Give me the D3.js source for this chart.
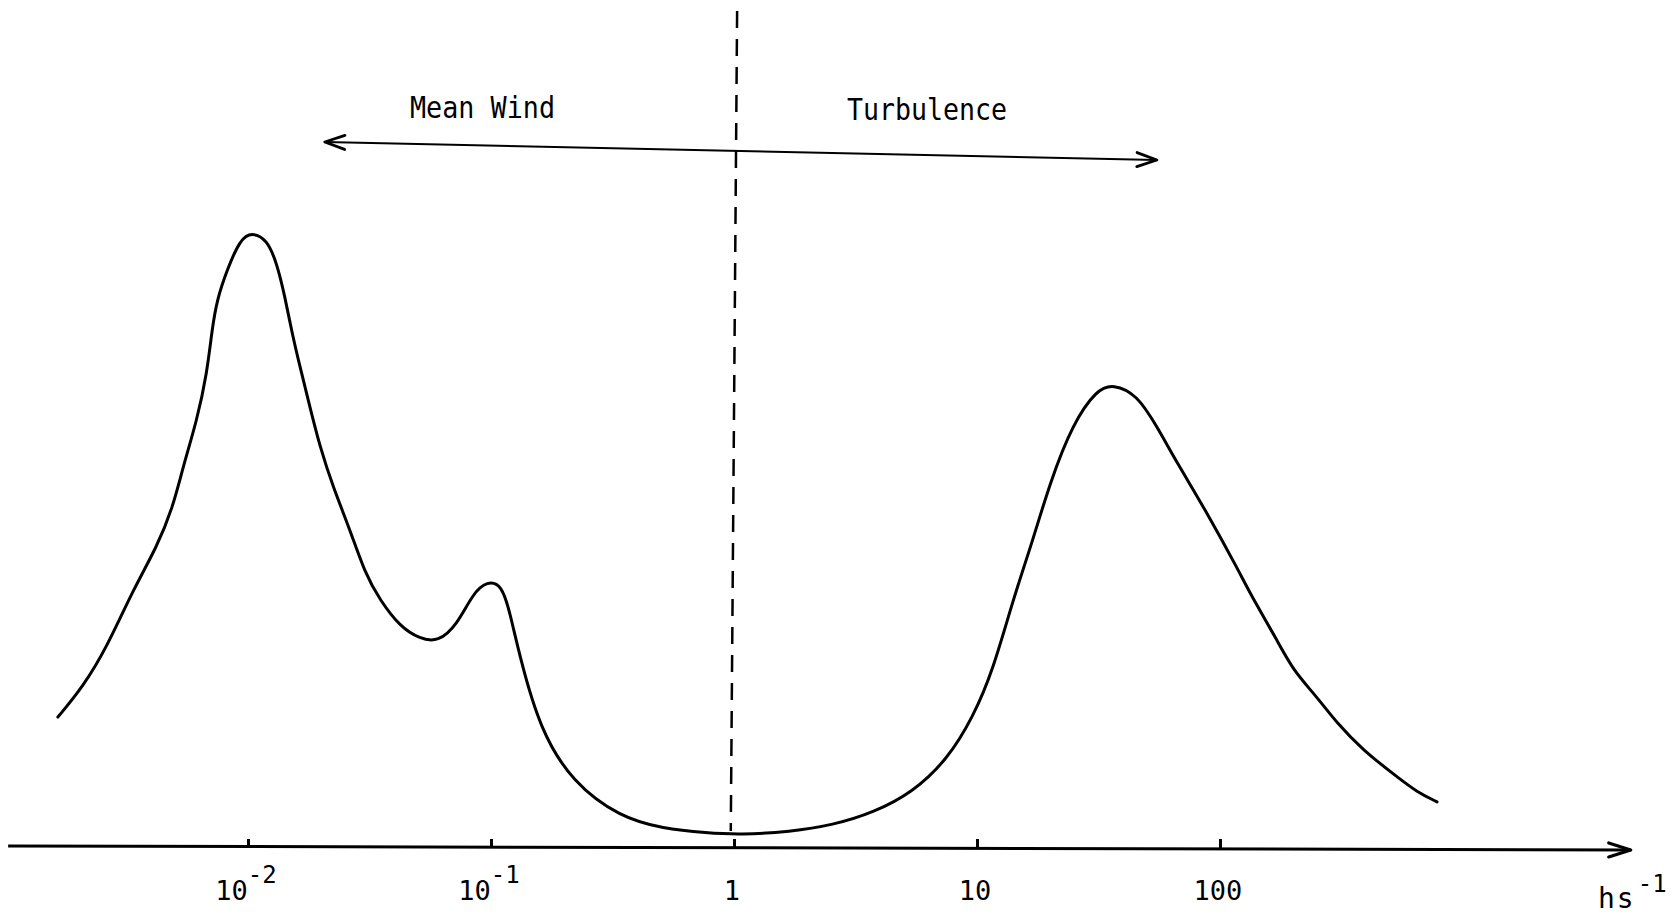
<!DOCTYPE html>
<html lang="en">
<head>
    <meta charset="UTF-8">
    <title>Wind Spectrum</title>
    <script src="https://d3js.org/d3.v7.min.js"></script>
    <style>
        body { margin: 0; background: #fff; }
        svg { display: block; }
        .lbl {
            font-family: "DejaVu Sans Mono", monospace;
            fill: #000;
        }
        .curve {
            fill: none;
            stroke: #000;
            stroke-width: 3px;
            stroke-linejoin: round;
            stroke-linecap: round;
        }
    </style>
</head>
<body>
<svg id="chart"></svg>
<script>
    // Spectrum values (frequency in cycles per hour, energy in arbitrary units)
    const freqs = [0.00165, 0.00209, 0.00263, 0.00336, 0.00422, 0.00491, 0.0054, 0.00617, 0.00678, 0.00711,
        0.00745, 0.0082, 0.00927, 0.01038, 0.01197, 0.01315, 0.01419, 0.01517, 0.01637, 0.01799,
        0.01977, 0.02239, 0.0263, 0.03027, 0.0349, 0.04227, 0.05108, 0.06053, 0.07244, 0.08435,
        0.09645, 0.1109, 0.1197, 0.1315, 0.1592, 0.2172, 0.3396, 0.5105, 0.7745, 1.059,
        1.70, 2.555, 3.733, 5.454, 7.534, 9.64, 11.64, 14.06, 16.98, 19.95,
        24.83, 31.19, 36.3, 45.5, 55.1, 66.5, 88.5, 120.8, 132.8, 171.8,
        199.6, 250.6, 303, 387, 535, 647, 782];
    const energy = [21.3, 26.2, 32.8, 42.1, 49.2, 55.7, 62.3, 70.0, 77.7, 84.8,
        89.7, 94.6, 99.6, 100.8, 99.6, 95.7, 90.2, 84.3, 78.7, 72.1,
        65.6, 59.0, 52.0, 44.9, 40.5, 36.1, 34.1, 33.6, 36.4, 41.6,
        43.6, 43.0, 38.4, 31.1, 19.2, 10.5, 4.9, 3.0, 2.3, 2.0,
        2.5, 3.6, 5.6, 9.0, 14.3, 21.3, 29.0, 40.5, 50.3, 59.7,
        69.5, 75.0, 75.9, 74.2, 68.9, 63.0, 54.8, 44.9, 41.6, 33.9,
        29.0, 24.6, 20.3, 15.9, 11.5, 9.0, 7.4];

    // Axis ticks and labels
    const tickValues = [0.01, 0.1, 1, 10, 100];
    const tickBase = ["10", "10", "1", "10", "100"];
    const tickExp = ["-2", "-1", "", "", ""];

    // Annotations
    const regionLabels = ["Mean Wind", "Turbulence"];
    const regionArrow = [0.0207, 55];   // left and right arrow tips
    const divider = [1.03, 0.97];       // dashed line top / bottom frequency

    const W = 1671, H = 917;
    const svg = d3.select("#chart").attr("width", W).attr("height", H);

    const x = d3.scaleLog().domain([0.01, 100]).range([248, 1220]);
    const y = d3.scaleLinear().domain([0, 100]).range([847, 237]);

    // chevron arrow heads
    const defs = svg.append("defs");
    function chevron(id, len, half, width) {
        defs.append("marker")
            .attr("id", id)
            .attr("markerUnits", "userSpaceOnUse")
            .attr("markerWidth", 60).attr("markerHeight", 60)
            .attr("viewBox", "-30 -30 60 60")
            .attr("refX", 0).attr("refY", 0)
            .attr("orient", "auto-start-reverse")
            .style("overflow", "visible")
            .append("path")
            .attr("d", `M${-len},${-half} L0,0 L${-len},${half}`)
            .attr("fill", "none")
            .attr("stroke", "#000")
            .attr("stroke-width", width)
            .attr("stroke-linecap", "round")
            .attr("stroke-linejoin", "round");
    }
    chevron("axisHead", 22, 7, 3.2);
    chevron("topHead", 20, 7, 2.8);

    // x axis line with arrow
    svg.append("line")
        .attr("x1", x(0.00103)).attr("y1", y(0) - 1)
        .attr("x2", x(4900)).attr("y2", y(0) + 3)
        .attr("stroke", "#000")
        .attr("stroke-width", 3)
        .attr("marker-end", "url(#axisHead)");

    // tick marks (pointing up)
    const axisG = svg.append("g")
        .attr("transform", "translate(0," + (y(0) + 1) + ")")
        .call(d3.axisBottom(x).tickValues(tickValues).tickSize(-9).tickFormat(""));
    axisG.select(".domain").remove();
    axisG.selectAll(".tick line").attr("stroke", "#000").attr("stroke-width", 3);

    // tick labels with superscripts
    const labels = svg.append("g").selectAll("text")
        .data(tickValues)
        .enter().append("text")
        .attr("class", "lbl")
        .attr("x", d => x(d) - 2)
        .attr("y", 900)
        .attr("text-anchor", "middle")
        .attr("font-size", 27);
    labels.append("tspan").text((d, i) => tickBase[i]);
    labels.append("tspan")
        .attr("font-size", 24)
        .attr("dy", -17)
        .text((d, i) => tickExp[i]);

    // unit label
    const unit = svg.append("text")
        .attr("class", "lbl")
        .attr("x", 1598).attr("y", 908)
        .attr("font-size", 28);
    unit.append("tspan").attr("letter-spacing", 2).text("hs");
    unit.append("tspan").attr("font-size", 24).attr("dy", -16).attr("dx", 2).text("-1");

    // dashed divider
    svg.append("line")
        .attr("x1", x(divider[0])).attr("y1", 11)
        .attr("x2", x(divider[1])).attr("y2", 831)
        .attr("stroke", "#000")
        .attr("stroke-width", 2.5)
        .attr("stroke-dasharray", "17 11");

    // double arrow across the top
    svg.append("line")
        .attr("x1", x(regionArrow[0])).attr("y1", 142)
        .attr("x2", x(regionArrow[1])).attr("y2", 160)
        .attr("stroke", "#000")
        .attr("stroke-width", 2)
        .attr("marker-start", "url(#topHead)")
        .attr("marker-end", "url(#topHead)");

    svg.append("text")
        .attr("class", "lbl")
        .attr("x", 410).attr("y", 118)
        .attr("font-size", 30)
        .attr("textLength", 145)
        .attr("lengthAdjust", "spacingAndGlyphs")
        .text(regionLabels[0]);

    svg.append("text")
        .attr("class", "lbl")
        .attr("x", 847).attr("y", 120)
        .attr("font-size", 30)
        .attr("textLength", 160)
        .attr("lengthAdjust", "spacingAndGlyphs")
        .text(regionLabels[1]);

    // spectrum curve
    const line = d3.line()
        .x(d => x(d[0]))
        .y(d => y(d[1]))
        .curve(d3.curveBasis);

    svg.append("path")
        .datum(freqs.map((f, i) => [f, energy[i]]))
        .attr("class", "curve")
        .attr("d", line);
</script>
</body>
</html>
